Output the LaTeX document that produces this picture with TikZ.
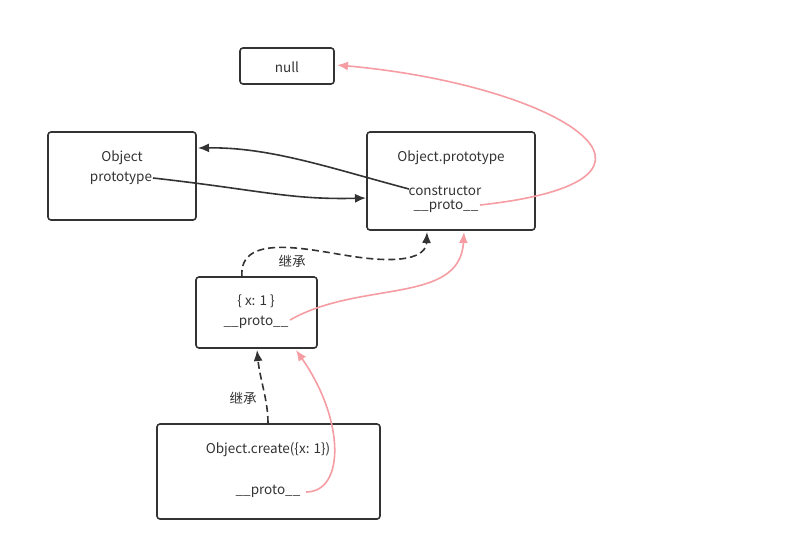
\documentclass[tikz,border=0pt]{standalone}
\usepackage{fontspec}
\setmainfont{Noto Sans CJK SC}
\usetikzlibrary{arrows.meta}
\definecolor{dark}{HTML}{333333}
\definecolor{pinkline}{HTML}{F59DA3}
\begin{document}
\begin{tikzpicture}[x=1pt,y=-1pt,
  box/.style={draw=dark,line width=1.6pt,rounded corners=3pt},
  lbl/.style={font=\fontsize{13.5}{15}\selectfont,text=dark,inner sep=0pt,yshift=-1.5pt},
  darkarrow/.style={draw=dark,line width=1.6pt,-{Latex[length=11pt,width=9pt]}},
  pinkarrow/.style={draw=pinkline,line width=1.6pt,-{Latex[length=11pt,width=9pt]}},
  dasharrow/.style={darkarrow,dash pattern=on 7pt off 4pt}]
\useasboundingbox (0,0) rectangle (809,550);
% boxes
\draw[box] (240,48) rectangle (334,84);
\node[lbl] (null) at (287,66) {null};
\coordinate (nullR) at (337,65);
\draw[box] (48,132) rectangle (196,220);
\node[lbl] (obj) at (122,156) {Object};
\node[lbl] (objproto) at (121,177) {prototype};
\coordinate (objR) at (198,148);
\coordinate (objprotoE) at (153,178);
\draw[box] (367,132) rectangle (535,230);
\node[lbl] (op) at (451,156) {Object.prototype};
\node[lbl] (ctor) at (445,189) {constructor};
\node[lbl] (opproto) at (446,205) {\_\_proto\_\_};
\coordinate (opL) at (366,198);
\coordinate (opB1) at (427,232);
\coordinate (opB2) at (464,232);
\coordinate (ctorW) at (409,189);
\coordinate (opprotoE) at (480,205);
\draw[box] (196,277) rectangle (317,348);
\node[lbl] (x1) at (256,300) {\{ x: 1 \}};
\node[lbl] (x1proto) at (256,321) {\_\_proto\_\_};
\coordinate (x1T) at (242,277);
\coordinate (x1E) at (290,320);
\coordinate (x1B1) at (257,350);
\coordinate (x1B2) at (296,350);
\draw[box] (157,424) rectangle (380,519);
\node[lbl] (oc) at (268,448) {Object.create(\{x: 1\})};
\node[lbl] (ocproto) at (268,490) {\_\_proto\_\_};
\coordinate (ocT) at (268,423);
\coordinate (ocE) at (306,492);
\node[lbl] (inh1) at (292,260) {继承};
\node[lbl] (inh2) at (243,397) {继承};
% connectors
\draw[darkarrow] (ctorW) .. controls (330,168) and (270,147) .. (objR);
\draw[darkarrow] (objprotoE) .. controls (260,190) and (290,200) .. (opL);
\draw[pinkarrow] (opprotoE) .. controls (710,180) and (560,85) .. (nullR);
\draw[dasharrow] (x1T) .. controls (238,232) and (310,250) .. (350,256)
  .. controls (400,264) and (426,258) .. (opB1);
\draw[pinkarrow] (x1E) .. controls (360,280) and (460,305) .. (opB2);
\draw[dasharrow] (ocT) .. controls (268,400) and (260,380) .. (x1B1);
\draw[pinkarrow] (ocE) .. controls (345,492) and (345,420) .. (x1B2);
\end{tikzpicture}
\end{document}
